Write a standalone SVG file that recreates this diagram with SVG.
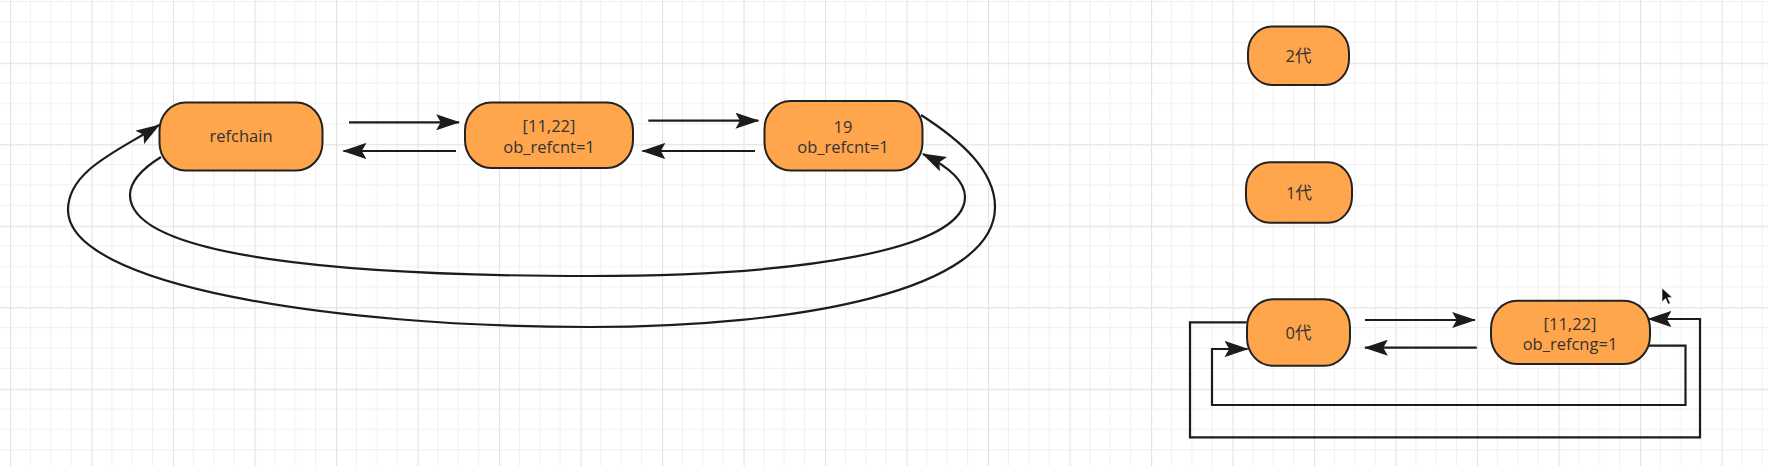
<svg xmlns="http://www.w3.org/2000/svg" width="1768" height="466" viewBox="0 0 1768 466">
<style>
.node rect{fill:#FFA64D;stroke:#222;stroke-width:2}
.node text{font-family:"Open Sans","Noto Sans CJK SC",sans-serif;font-size:16.5px;fill:#333;text-anchor:middle}
.conn path{fill:none;stroke:#1c1c1c;stroke-width:2.2;marker-end:url(#arr)}
</style>
<defs>
<pattern id="grid" patternUnits="userSpaceOnUse" x="10" y="-18.8" width="81.5" height="81.5">
<path d="M20.375 0V81.5M40.75 0V81.5M61.125 0V81.5M0 20.375H81.5M0 40.75H81.5M0 61.125H81.5" stroke="#efefef" stroke-width="1" fill="none"/>
<path d="M0.5 0V81.5M0 0.5H81.5" stroke="#e3e3e3" stroke-width="1.3" fill="none"/>
</pattern>
<marker id="arr" markerUnits="userSpaceOnUse" markerWidth="24" markerHeight="16" viewBox="0 0 21 14" refX="20" refY="7" orient="auto">
<path d="M0,0 L21,7 L0,14 L4,7 Z" fill="#1c1c1c"/>
</marker>
</defs>
<rect width="1768" height="466" fill="#fff"/>
<rect width="1768" height="466" fill="url(#grid)"/>

<g id="connectors" class="conn">
<path d="M349,122.3 H459"/>
<path d="M456,151 H343.5"/>
<path d="M648.3,120.7 H758.3"/>
<path d="M755,151 H642.5"/>
<path d="M921,115 C960,140 995,170 995,207 C995,290 800,327 590,327 C330,327 68,285 68,210 C68,170 120,150 159,125"/>
<path d="M161,157 C145,167 130,180 130,195 C130,258 350,276 590,276 C800,276 965,250 965,197 C965,180 945,165 923,154"/>
<path d="M1365,320 H1475"/>
<path d="M1476.8,347.7 H1365"/>
<path d="M1246.5,322.3 H1190 V437.3 H1700 V319 H1648.5"/>
<path d="M1648,345.7 H1685.5 V405 H1212 V349 H1247.5"/>
</g>

<g id="n-refchain" class="node"><rect x="159.5" y="102.5" width="163" height="68" rx="26" ry="28"/><text x="241" y="142">refchain</text></g>
<g id="n-list" class="node"><rect x="465" y="102.5" width="168" height="65.5" rx="26" ry="28"/><text x="549" y="132.3">[11,22]</text><text x="549" y="152.6">ob_refcnt=1</text></g>
<g id="n-19" class="node"><rect x="764.5" y="101" width="158" height="69.5" rx="26" ry="28"/><text x="843" y="133">19</text><text x="843" y="153">ob_refcnt=1</text></g>
<g id="n-gen2" class="node"><rect x="1248" y="26.5" width="101" height="58.5" rx="24" ry="26"/><text x="1298.5" y="61.5">2代</text></g>
<g id="n-gen1" class="node"><rect x="1246" y="162.3" width="106" height="60.5" rx="24" ry="26"/><text x="1299" y="198.5">1代</text></g>
<g id="n-gen0" class="node"><rect x="1247" y="299.3" width="103" height="66.5" rx="26" ry="28"/><text x="1298.5" y="338.5">0代</text></g>
<g id="n-list2" class="node"><rect x="1491" y="300.7" width="159" height="63.3" rx="26" ry="28"/><text x="1570" y="330">[11,22]</text><text x="1570" y="349.5">ob_refcng=1</text></g>

<polygon points="1662,288 1662,302 1665.5,298.6 1668.2,304.2 1670.4,303.2 1667.7,297.7 1672.3,297.4" fill="#111" stroke="#fff" stroke-width="0.6"/>
</svg>
